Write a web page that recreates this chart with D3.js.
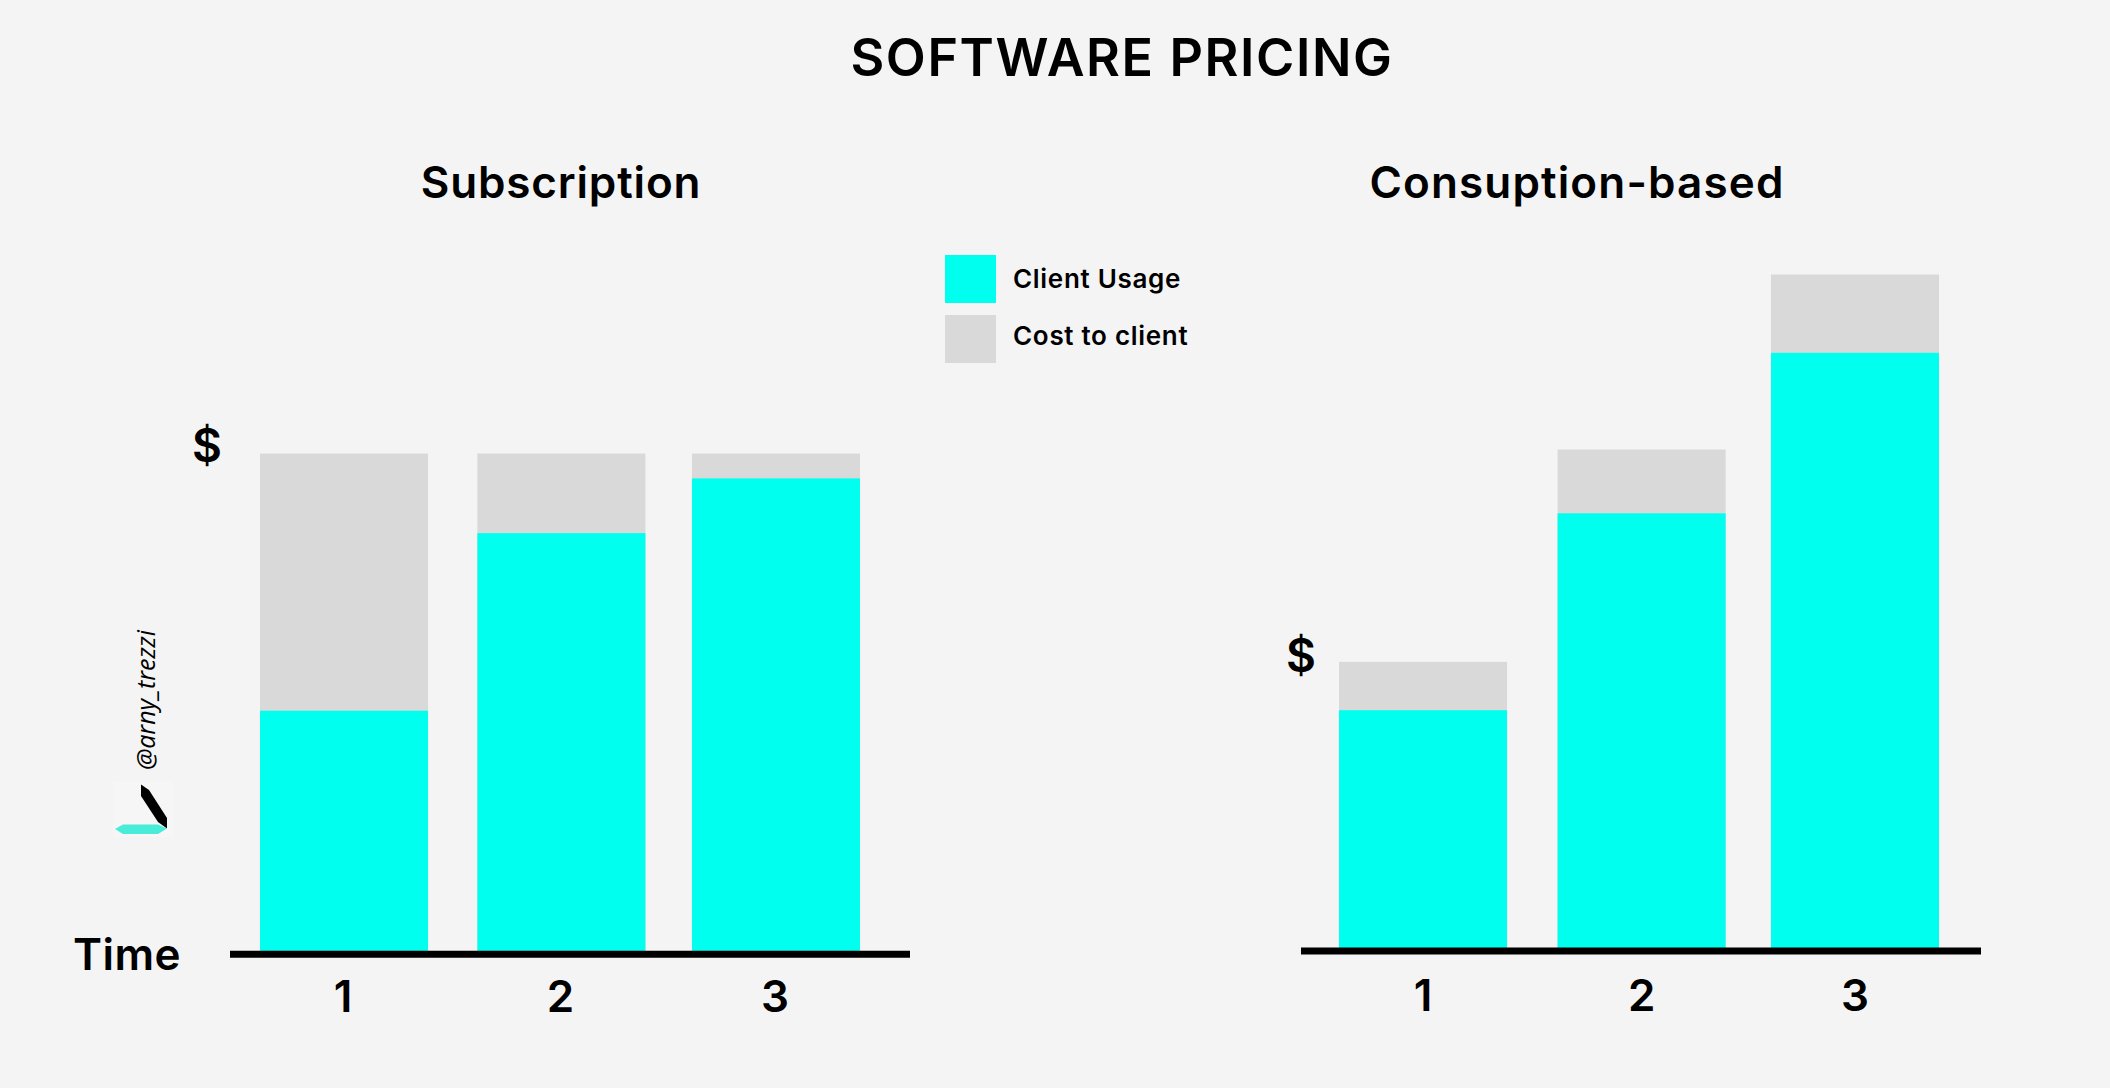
<!DOCTYPE html>
<html>
<head>
<meta charset="utf-8">
<script src="https://cdn.jsdelivr.net/npm/d3@7"></script>
<style>
  html, body { margin: 0; padding: 0; background: #f4f4f4; }
  text { font-family: Inter, sans-serif; fill: #000; }
</style>
</head>
<body>
<div id="chart"></div>
<script>
const periods = ["1", "2", "3"];
const subscriptionUsage = [48.3, 84, 95];
const subscriptionTotal = [100, 100, 100];
const consumptionUsage = [47.7, 87.2, 119.4];
const consumptionTotal = [57.4, 100, 135.1];
const legendLabels = ["Client Usage", "Cost to client"];

const usageColor = "#00ffee";
const costColor = "#d9d9d9";

const width = 2110, height = 1088;
const svg = d3.select("#chart").append("svg")
  .attr("width", width)
  .attr("height", height)
  .style("display", "block");

function drawPanel(opts) {
  const x = d3.scaleBand().domain(periods).range(opts.xRange).paddingInner(0.222).paddingOuter(0);
  const y = d3.scaleLinear().domain([0, 100]).range([opts.base, opts.top]);
  const g = svg.append("g");
  // the middle bar is not quite evenly spaced in the original
  const barX = d => x(d) + (d === "2" ? opts.midShift : 0);

  g.selectAll(".total").data(periods).join("rect")
    .attr("class", "total")
    .attr("x", barX)
    .attr("width", x.bandwidth())
    .attr("y", (d, i) => y(opts.total[i]))
    .attr("height", (d, i) => y(0) - y(opts.total[i]))
    .attr("fill", costColor);

  g.selectAll(".usage").data(periods).join("rect")
    .attr("class", "usage")
    .attr("x", barX)
    .attr("width", x.bandwidth())
    .attr("y", (d, i) => y(opts.usage[i]))
    .attr("height", (d, i) => y(0) - y(opts.usage[i]))
    .attr("fill", usageColor);

  const axis = g.append("g")
    .attr("transform", "translate(0," + opts.axisY + ")")
    .call(d3.axisBottom(x).tickSize(0).tickPadding(opts.tickPad));
  axis.select(".domain").remove();
  axis.selectAll(".tick")
    .attr("transform", d => "translate(" + (barX(d) + x.bandwidth() / 2 + opts.tickShift) + ",0)");
  axis.selectAll("text")
    .style("font-family", "Inter, sans-serif")
    .style("font-size", "44px")
    .style("font-weight", 600)
    .attr("fill", "#000");

  // the baseline runs past the first and last bar
  g.append("line")
    .attr("x1", opts.lineX[0])
    .attr("x2", opts.lineX[1])
    .attr("y1", opts.axisY)
    .attr("y2", opts.axisY)
    .attr("stroke", "#000")
    .attr("stroke-width", 7);

  g.append("text")
    .attr("x", opts.titleX)
    .attr("y", 198)
    .attr("text-anchor", "middle")
    .style("font-size", "44px")
    .style("font-weight", 600)
    .style("letter-spacing", opts.titleSpacing)
    .text(opts.title);

  g.append("text")
    .attr("x", opts.dollarX)
    .attr("y", opts.dollarY)
    .attr("text-anchor", "middle")
    .style("font-size", "46px")
    .style("font-weight", 600)
    .text("$");
}

svg.append("rect").attr("width", width).attr("height", height).attr("fill", "#f4f4f4");

svg.append("text")
  .attr("x", 1122)
  .attr("y", 76)
  .attr("text-anchor", "middle")
  .style("font-size", "52px")
  .style("font-weight", 600)
  .style("letter-spacing", "1.6px")
  .text("SOFTWARE PRICING");

drawPanel({
  title: "Subscription", titleX: 561, titleSpacing: "0.85px",
  usage: subscriptionUsage, total: subscriptionTotal,
  xRange: [260, 860], base: 951, top: 453.5, axisY: 954.3,
  lineX: [230, 910], midShift: 1.4, tickPad: 26, tickShift: -1,
  dollarX: 207, dollarY: 462
});

drawPanel({
  title: "Consuption-based", titleX: 1577, titleSpacing: "1.15px",
  usage: consumptionUsage, total: consumptionTotal,
  xRange: [1339, 1939], base: 948, top: 449.5, axisY: 951,
  lineX: [1301, 1981], midShift: 2.6, tickPad: 29, tickShift: 0,
  dollarX: 1301, dollarY: 672
});

svg.append("text")
  .attr("x", 127).attr("y", 970)
  .style("font-size", "44px")
  .style("font-weight", 600)
  .style("letter-spacing", "0.4px")
  .attr("text-anchor", "middle")
  .text("Time");

// legend
const legend = svg.append("g");
legendLabels.forEach((label, i) => {
  const top = [255, 315][i];
  legend.append("rect")
    .attr("x", 945).attr("y", top)
    .attr("width", 51).attr("height", 48)
    .attr("fill", i === 0 ? usageColor : costColor);
  legend.append("text")
    .attr("x", 1013).attr("y", [288, 345][i])
    .style("font-size", "26px")
    .style("font-weight", 600)
    .style("letter-spacing", "0.7px")
    .text(label);
});

// author credit and pen mark
svg.append("text")
  .attr("transform", "translate(155,770) rotate(-90)")
  .style("font-family", "'Open Sans', sans-serif")
  .style("font-style", "italic")
  .style("font-size", "25px")
  .style("font-weight", 400)
  .text("@arny_trezzi");

svg.append("rect")
  .attr("x", 113).attr("y", 781)
  .attr("width", 60).attr("height", 56)
  .attr("fill", "#f6f6f6");
svg.append("path")
  .attr("d", "M141,784.5 L149,790 L167,818 L167,828.6 L158,822 L141,796 Z")
  .attr("fill", "#000");
svg.append("path")
  .attr("d", "M115,829 L123,824.5 L158,824.5 L167,828.6 L158,834 L123,834 Z")
  .attr("fill", "#48ecd9");
</script>
</body>
</html>
